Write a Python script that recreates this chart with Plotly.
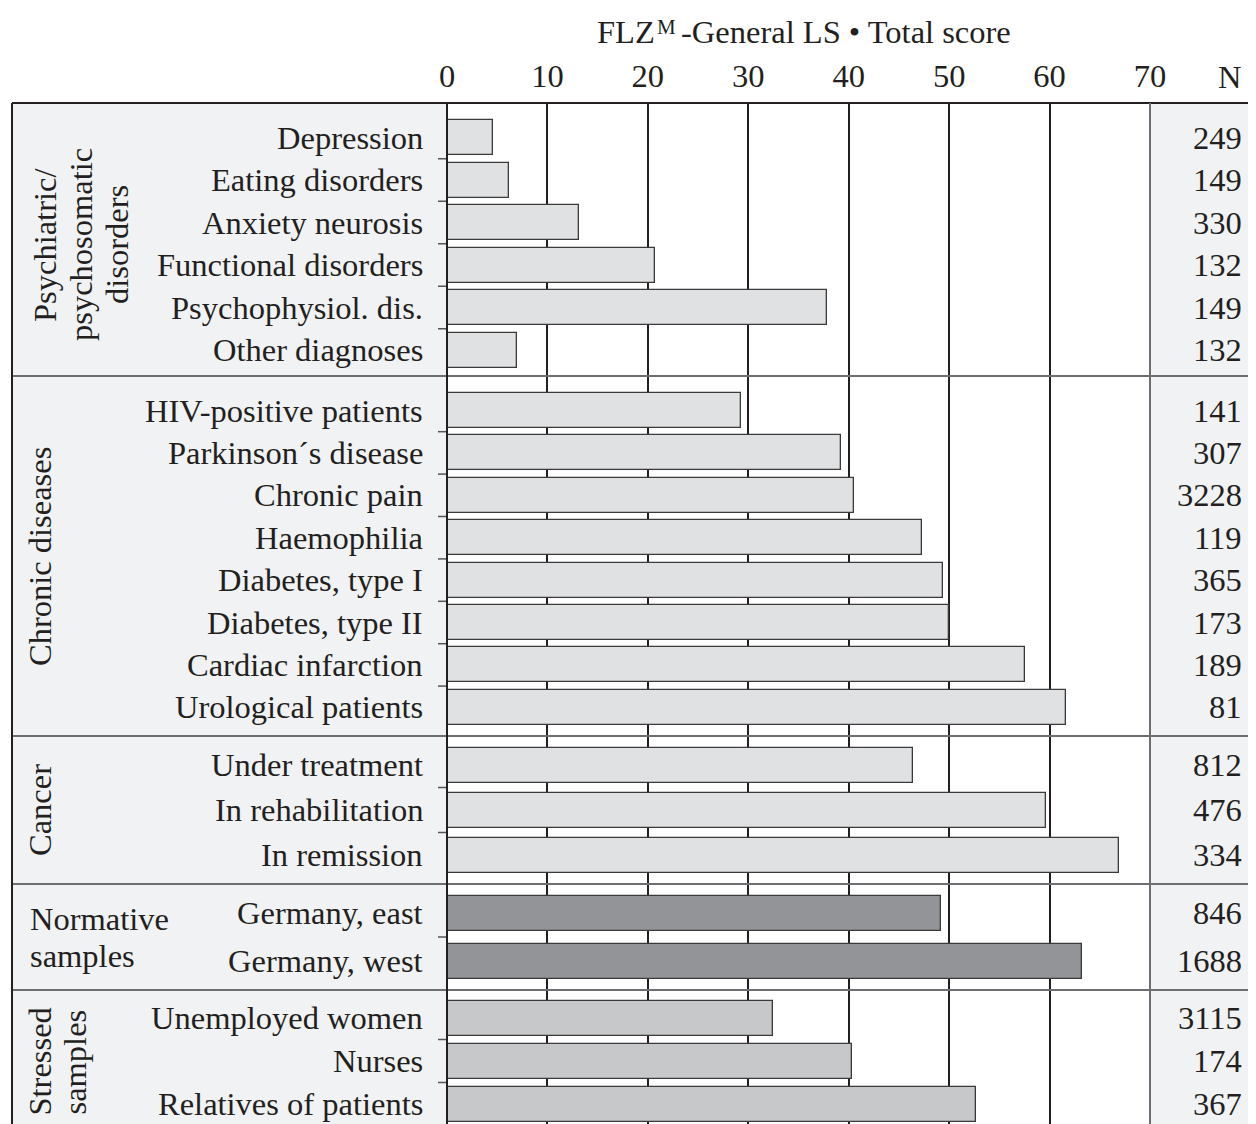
import plotly.graph_objects as go

# ---------------- data ----------------
group_names = ["Psychiatric/<br>psychosomatic<br>disorders", "Chronic diseases", "Cancer",
               "Normative<br>samples", "Stressed<br>samples"]

psych_labels = ["Depression", "Eating disorders", "Anxiety neurosis", "Functional disorders",
                "Psychophysiol. dis.", "Other diagnoses"]
psych_values = [4.6, 6.2, 13.1, 20.7, 37.8, 7.0]
psych_n = [249, 149, 330, 132, 149, 132]

chronic_labels = ["HIV-positive patients", "Parkinson\u00b4s disease", "Chronic pain", "Haemophilia",
                  "Diabetes, type I", "Diabetes, type II", "Cardiac infarction", "Urological patients"]
chronic_values = [29.3, 39.2, 40.5, 47.3, 49.4, 50.0, 57.6, 61.6]
chronic_n = [141, 307, 3228, 119, 365, 173, 189, 81]

cancer_labels = ["Under treatment", "In rehabilitation", "In remission"]
cancer_values = [46.4, 59.6, 66.9]
cancer_n = [812, 476, 334]

norm_labels = ["Germany, east", "Germany, west"]
norm_values = [49.2, 63.2]
norm_n = [846, 1688]

stress_labels = ["Unemployed women", "Nurses", "Relatives of patients"]
stress_values = [32.5, 40.3, 52.7]
stress_n = [3115, 174, 367]

x_ticks = [0, 10, 20, 30, 40, 50, 60, 70]
title_main = "FLZ"
title_sup = "M"
title_rest = "-General LS \u2022 Total score"

# ---------------- layout params (page pixel units; page has an 8px body margin) ----------------
OFF = 8
W, H = 1256 - OFF, 1124 - OFF
PL, PR, PT, PB = 447, 1150, 103, 1124     # plot area in page pixels
FONT = "Liberation Serif"
FS = 32.5
TXT = "#231f20"
PANEL = "#f1f2f4"

groups = [
    dict(labels=psych_labels, values=psych_values, n=psych_n, color="#e0e1e3",
         first=137.5, pitch=42.5, sep=376, glabel=dict(x=81, y=245, rot=True, lh=36)),
    dict(labels=chronic_labels, values=chronic_values, n=chronic_n, color="#e0e1e3",
         first=410.5, pitch=42.4, sep=736, glabel=dict(x=40, y=557, rot=True, lh=36)),
    dict(labels=cancer_labels, values=cancer_values, n=cancer_n, color="#e0e1e3",
         first=765, pitch=45, sep=884, glabel=dict(x=40, y=810, rot=True, lh=36)),
    dict(labels=norm_labels, values=norm_values, n=norm_n, color="#929497",
         first=913, pitch=48, sep=990, glabel=dict(x=28, y=937, rot=False, lh=37)),
    dict(labels=stress_labels, values=stress_values, n=stress_n, color="#c7c8ca",
         first=1018, pitch=43, sep=None, glabel=dict(x=57, y=1062, rot=True, lh=35)),
]


def px(xp):
    return (xp - PL) / (PR - PL)


def py(yp):
    return (PB - yp) / (PB - PT)


fig = go.Figure()
shapes = []
annotations = []

# panel backgrounds
shapes.append(dict(type="rect", xref="paper", yref="paper", x0=px(12), x1=px(PL), y0=py(PB + 2), y1=py(PT),
                   fillcolor=PANEL, line=dict(width=0), layer="below"))
shapes.append(dict(type="rect", xref="paper", yref="paper", x0=px(PR), x1=px(1260), y0=py(PB + 2), y1=py(PT),
                   fillcolor=PANEL, line=dict(width=0), layer="below"))

for gi, g in enumerate(groups):
    ys = [g["first"] + i * g["pitch"] for i in range(len(g["labels"]))]
    fig.add_trace(go.Bar(
        x=g["values"], y=ys, orientation="h", width=35,
        marker=dict(color=g["color"], line=dict(color="#3a3a3a", width=1.3)),
        showlegend=False, hoverinfo="x",
    ))
    for lab, yv, nv in zip(g["labels"], ys, g["n"]):
        annotations.append(dict(text=lab, xref="paper", yref="y", x=px(425), y=yv,
                                xanchor="right", yanchor="middle", showarrow=False,
                                font=dict(family=FONT, size=FS, color=TXT)))
        annotations.append(dict(text=str(nv), xref="paper", yref="y", x=px(1244), y=yv,
                                xanchor="right", yanchor="middle", showarrow=False,
                                font=dict(family=FONT, size=FS, color=TXT)))
    # small ticks between rows
    for a, b in zip(ys[:-1], ys[1:]):
        m = (a + b) / 2
        shapes.append(dict(type="line", xref="paper", yref="paper", x0=px(438), x1=px(PL),
                           y0=py(m), y1=py(m), line=dict(color="#555", width=1.5)))
    # group label, one annotation per line
    gl = g["glabel"]
    lines = group_names[gi].split("<br>")
    k = len(lines)
    for li, line in enumerate(lines):
        off = (li - (k - 1) / 2) * gl["lh"]
        if gl["rot"]:
            ax, ay = gl["x"] + off, gl["y"]
        else:
            ax, ay = gl["x"], gl["y"] + off
        annotations.append(dict(text=line, xref="paper", yref="paper", x=px(ax), y=py(ay),
                                xanchor="center" if gl["rot"] else "left", yanchor="middle",
                                textangle=-90 if gl["rot"] else 0, showarrow=False,
                                font=dict(family=FONT, size=FS, color=TXT)))
    if g["sep"] is not None:
        shapes.append(dict(type="line", xref="paper", yref="paper", x0=px(12), x1=px(1260),
                           y0=py(g["sep"]), y1=py(g["sep"]), line=dict(color="#6d6e71", width=2)))

# borders
shapes.append(dict(type="line", xref="paper", yref="paper", x0=px(12), x1=px(1260), y0=py(PT), y1=py(PT),
                   line=dict(color="#231f20", width=2)))
shapes.append(dict(type="line", xref="paper", yref="paper", x0=px(12), x1=px(12), y0=py(PT), y1=py(PB + 2),
                   line=dict(color="#231f20", width=2)))
shapes.append(dict(type="line", xref="paper", yref="paper", x0=0, x1=0, y0=py(PT), y1=py(PB + 2),
                   line=dict(color="#231f20", width=2)))
shapes.append(dict(type="line", xref="paper", yref="paper", x0=1, x1=1, y0=py(PT), y1=py(PB + 2),
                   line=dict(color="#6d6e71", width=2)))

# title (with raised small M) and N header
annotations.append(dict(text=title_main, xref="paper", yref="paper", x=px(657), y=py(32),
                        xanchor="right", yanchor="middle", showarrow=False,
                        font=dict(family=FONT, size=FS, color=TXT)))
annotations.append(dict(text=title_sup, xref="paper", yref="paper", x=px(655), y=py(27),
                        xanchor="left", yanchor="middle", showarrow=False,
                        font=dict(family=FONT, size=21, color=TXT)))
annotations.append(dict(text=title_rest, xref="paper", yref="paper", x=px(679), y=py(32),
                        xanchor="left", yanchor="middle", showarrow=False,
                        font=dict(family=FONT, size=FS, color=TXT)))
annotations.append(dict(text="N", xref="paper", yref="paper", x=px(1229), y=py(77),
                        xanchor="center", yanchor="middle", showarrow=False,
                        font=dict(family=FONT, size=FS, color=TXT)))

fig.update_layout(
    width=W, height=H,
    margin=dict(l=PL - OFF, r=W - (PR - OFF), t=PT - OFF, b=0, pad=0),
    paper_bgcolor="white", plot_bgcolor="white",
    bargap=0, barmode="overlay",
    shapes=shapes, annotations=annotations,
    xaxis=dict(range=[0, 70], side="top", tickvals=x_ticks, ticktext=[str(t) for t in x_ticks],
               showgrid=True, gridcolor="#231f20", gridwidth=1.5, zeroline=False, showline=False,
               ticks="", ticklabelstandoff=9,
               tickfont=dict(family=FONT, size=FS, color=TXT), fixedrange=True),
    yaxis=dict(range=[PB, PT], showgrid=False, zeroline=False, showticklabels=False, ticks="",
               showline=False, fixedrange=True),
)

fig.write_html("out.html")
